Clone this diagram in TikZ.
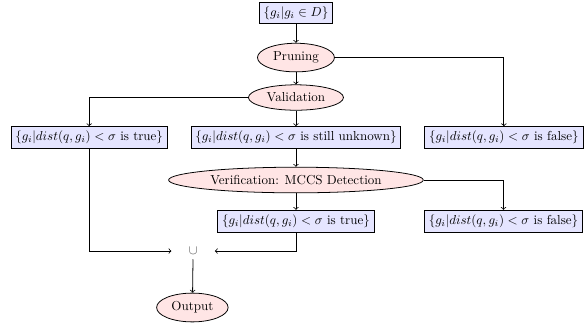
\documentclass[tikz,border=0pt]{standalone}
\usetikzlibrary{shapes.geometric}

\begin{document}
\begin{tikzpicture}[
    setnode/.style={rectangle, draw=black, fill=blue!10, semithick},
    stepnode/.style={ellipse, draw=black, fill=red!10, semithick},
    ]
\useasboundingbox (0,0) rectangle (15.84,8.866);

% Input and filtering steps
\node[setnode] (data) at (8,8.515) {$\{g_i | g_i \in D\}$};
\node[stepnode] (pruning) at (8,7.31) {Pruning};
\node[stepnode] (validation) at (8,6.23) {Validation};

% First results
\node[setnode] (valtrue) at (2.41,5.15) {$\{g_i | dist(q,g_i) < \sigma$ is true$\}$};
\node[setnode] (unknown) at (8,5.15) {$\{g_i | dist(q,g_i) < \sigma$ is still unknown$\}$};
\node[setnode] (prunefalse) at (13.62,5.15) {$\{g_i | dist(q,g_i) < \sigma$ is false$\}$};

% Verification
\node[stepnode] (verify) at (8,4.0) {Verification: MCCS Detection};
\node[setnode] (vertrue) at (8,2.89) {$\{g_i | dist(q,g_i) < \sigma$ is true$\}$};
\node[setnode] (verfalse) at (13.61,2.89) {$\{g_i | dist(q,g_i) < \sigma$ is false$\}$};

% Union and output
\node[minimum width=1.16cm, text=black!70] (union) at (5.22,2.08) {$\cup$};
\node[stepnode] (output) at (5.2,0.554) {Output};

% Edges
\draw[->, semithick] (data) -- (pruning);
\draw[->, semithick] (pruning) -- (validation);
\draw[->, semithick] (pruning) -| (prunefalse);
\draw[->, semithick] (validation) -| (valtrue);
\draw[->, semithick] (validation) -- (unknown);
\draw[->, semithick] (unknown) -- (verify);
\draw[->, semithick] (verify) -- (vertrue);
\draw[->, semithick] (verify) -| (verfalse);
\draw[->, semithick] (valtrue) |- (union);
\draw[->, semithick] (vertrue) |- (union);
\draw[->, semithick] (union) -- (output);

\end{tikzpicture}
\end{document}
